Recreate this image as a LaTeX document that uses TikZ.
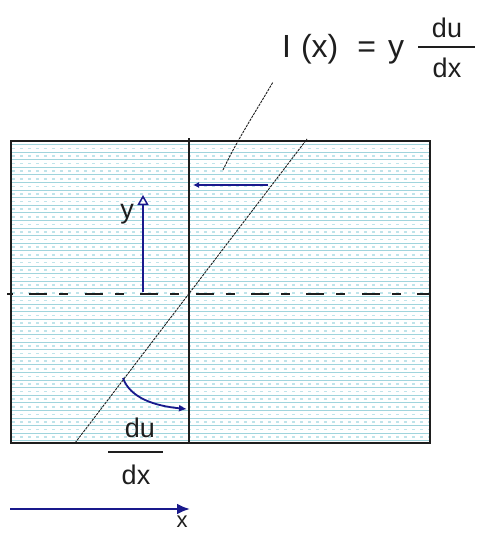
\documentclass[tikz,border=0pt]{standalone}
\usepackage{fontspec}
\setmainfont{Liberation Sans}
\usetikzlibrary{arrows.meta}
\definecolor{navyarrow}{RGB}{25,25,140}
\definecolor{hatchA}{RGB}{160,212,220}
\definecolor{hatchB}{RGB}{192,228,234}
\definecolor{inkgray}{RGB}{30,30,30}
\begin{document}
\begin{tikzpicture}[x=1pt,y=-1pt,
  bigtxt/.style={inner sep=0pt, text=inkgray, font=\fontsize{32pt}{32pt}\selectfont},
  fractxt/.style={inner sep=0pt, text=inkgray, font=\fontsize{27pt}{27pt}\selectfont},
  frame/.style={line width=1.6pt, draw=inkgray},
  axisline/.style={line width=1.5pt, draw=inkgray},
  centerline/.style={line width=2pt, draw=inkgray, dash pattern=on 18pt off 12pt on 9pt off 16.4pt, dash phase=33pt},
  thinline/.style={line width=0.9pt, draw=inkgray, dash pattern=on 2.5pt off 1pt},
  bluearrow/.style={draw=navyarrow, line width=1.8pt},
  fracbar/.style={line width=1.5pt, draw=inkgray}
]
\useasboundingbox (0,0) rectangle (478,533);
% named points
\coordinate (TL) at (11,141);
\coordinate (BR) at (430,443);
% hatched fill
\begin{scope}
  \clip (TL) rectangle (BR);
  \fill[white] (TL) rectangle (BR);
  \foreach \i in {0,...,40} {
    \draw[hatchA, line width=1.1pt] (11,{144.5+7.6*\i}) -- (430,{144.5+7.6*\i});
    \draw[hatchB, line width=1.6pt, dash pattern=on 3pt off 5pt] (12,{148.3+7.6*\i}) -- (430,{148.3+7.6*\i});
  }
\end{scope}
\draw[frame] (TL) rectangle (BR);
% vertical line
\coordinate (vt) at (189,138);
\coordinate (vb) at (189,443);
\draw[axisline] (vt) -- (vb);
% dash-dot centre line
\coordinate (cl) at (7,294);
\coordinate (cr) at (430,294);
\draw[centerline] (cl) -- (cr);
% diagonal line
\coordinate (d1) at (75,443);
\coordinate (d2) at (307,139);
\draw[thinline] (d1) -- (d2);
% leader line
\coordinate (l1) at (223,170);
\coordinate (l2) at (273,82);
\draw[thinline] (l1) .. controls (237,140) and (258,108) .. (l2);
% top blue arrow
\coordinate (a1) at (268,185);
\coordinate (a2) at (193,185);
\draw[bluearrow, -{Latex[length=6pt,width=6pt]}] (a1) -- (a2);
% y arrow
\coordinate (y1) at (143,292);
\coordinate (y2) at (143,195);
\draw[draw=navyarrow, line width=1.6pt, -{Triangle[open, length=10pt, width=11pt, line width=1.5pt]}] (y1) -- (y2);
% curved arrow
\coordinate (c1) at (123,378);
\coordinate (c2) at (187,409);
\draw[bluearrow, -{Latex[length=8pt,width=7pt]}] (c1) .. controls (130,398) and (155,406) .. (c2);
% x axis arrow
\coordinate (b1) at (10,509);
\coordinate (b2) at (190,509);
\draw[draw=navyarrow, line width=2.5pt, -{Latex[length=13pt,width=11pt]}] (b1) -- (b2);
% top formula
\node[bigtxt, anchor=base west] (eq) at (282,57) {I\hspace{10pt}(x)\hspace{19pt}=\hspace{12pt}y};
\node[fractxt, anchor=base] (du1) at (447,37) {du};
\node[fractxt, anchor=base] (dx1) at (447,77) {dx};
\coordinate (f1l) at (418,47);
\coordinate (f1r) at (475,47);
\draw[fracbar] (f1l) -- (f1r);
% y label
\node[fractxt, anchor=base] (ylab) at (127,218) {y};
% bottom fraction
\node[fractxt, anchor=base] (du2) at (140,437) {du};
\node[fractxt, anchor=base] (dx2) at (136,484) {dx};
\coordinate (f2l) at (108,452);
\coordinate (f2r) at (163,452);
\draw[fracbar] (f2l) -- (f2r);
% x label
\node[inner sep=0pt, text=inkgray, font=\fontsize{22pt}{22pt}\selectfont, anchor=base] (xlab) at (182,527) {x};
\end{tikzpicture}
\end{document}
